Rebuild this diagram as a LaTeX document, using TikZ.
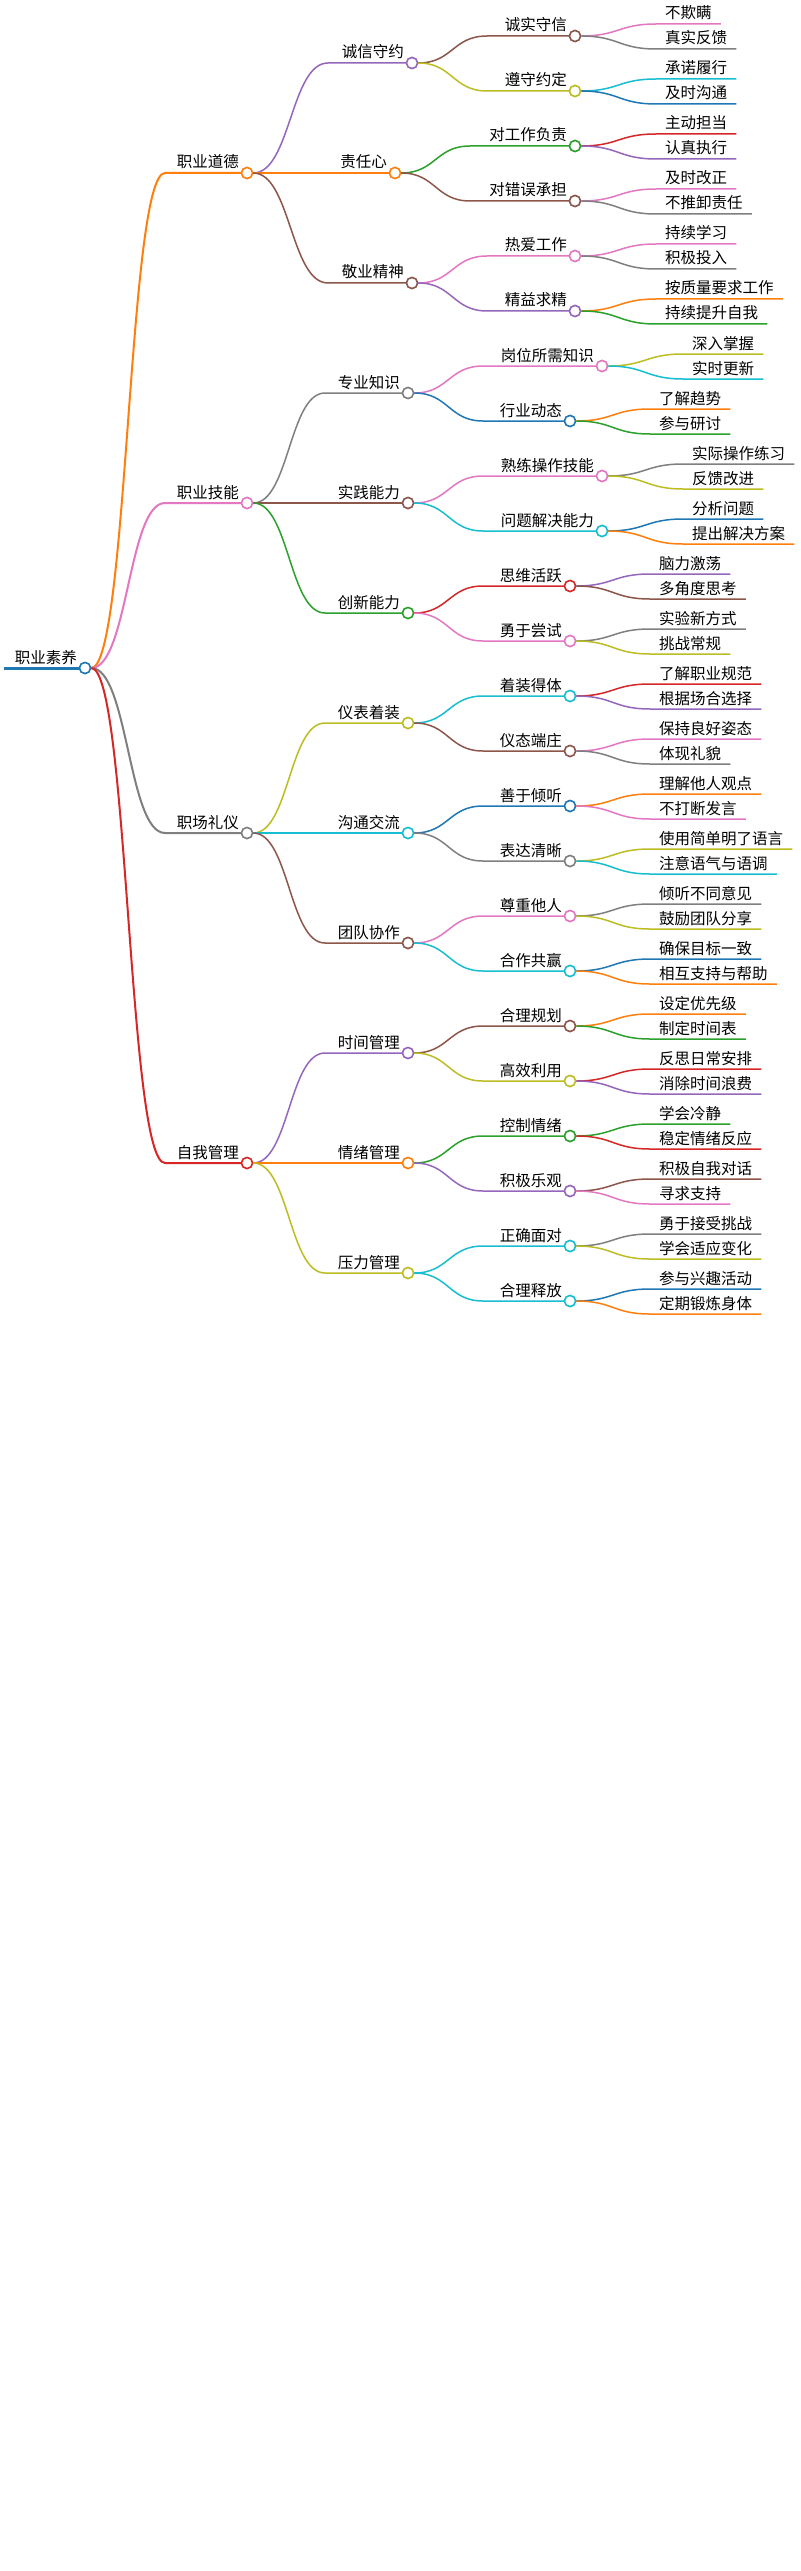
\documentclass[tikz,border=0pt]{standalone}
\usepackage{fontspec}
\setmainfont{Noto Sans CJK SC}
\usetikzlibrary{calc}
\definecolor{cblue}{HTML}{1F77B4}
\definecolor{corange}{HTML}{FF7F0E}
\definecolor{cgreen}{HTML}{2CA02C}
\definecolor{cred}{HTML}{D62728}
\definecolor{cpurple}{HTML}{9467BD}
\definecolor{cbrown}{HTML}{8C564B}
\definecolor{cpink}{HTML}{E377C2}
\definecolor{cgray}{HTML}{7F7F7F}
\definecolor{colive}{HTML}{BCBD22}
\definecolor{ccyan}{HTML}{17BECF}
\tikzset{
  dot/.style={circle,fill=white,line width=1.5pt,minimum size=11pt,inner sep=0pt},
  lbl/.style={inner sep=0pt,font=\fontsize{15.5}{18}\selectfont,text=black},
}
% parent, name, linestart x, y, circle x, color, text, width
\newcommand\branch[8]{%
  \coordinate (#2s) at (#3,#4);
  \coordinate (m) at ($(#1.east)!0.5!(#2s)$);
  \draw[#6,line width=#8] (#1.east) .. controls (m |- #1.east) and (m |- #2s) .. (#2s) -- (#2.west);
  \node[lbl,anchor=base east] (#2t) at (#5-8,#4-5) {#7};
}
\newcommand\bdot[4]{\node[dot,draw=#4] (#1) at (#2,#3) {};}
% parent, name, linestart x, y, color, text
\newcommand\leaf[6]{%
  \node[lbl,anchor=base west] (#2) at (#3+9,#4-5) {#6};
  \coordinate (#2s) at (#3,#4);
  \coordinate (m) at ($(#1.east)!0.5!(#2s)$);
  \draw[#5,line width=1.5pt] (#1.east) .. controls (m |- #1.east) and (m |- #2s) .. (#2s) -- (#2s -| #2.east) -- ++(9,0);
}
% L2 with dot
\newcommand\node@{}
\newcommand\Bn[8]{\bdot{#2}{#5}{#4}{#6}\branch{#1}{#2}{#3}{#4}{#5}{#6}{#7}{#8}\bdot{#2}{#5}{#4}{#6}}
\begin{document}
\begin{tikzpicture}[x=1pt,y=-1pt]
\useasboundingbox (0,0) rectangle (800,2571);
\fill[white] (0,0) rectangle (800,2571);
% root
\coordinate (r0) at (4,668);
\node[dot,draw=cblue] (root) at (85,668) {};
\draw[cblue,line width=3pt] (r0) -- (root.west);
\node[dot,draw=cblue] (root) at (85,668) {};
\node[lbl,anchor=base east] (roott) at (77,663) {职业素养};

% ===== Level 1
\Bn{root}{a}{165}{173}{247}{corange}{职业道德}{2pt}
\Bn{root}{b}{165}{503}{247}{cpink}{职业技能}{2pt}
\Bn{root}{c}{165}{833}{247}{cgray}{职场礼仪}{2pt}
\Bn{root}{d}{165}{1163}{247}{cred}{自我管理}{2pt}

% ===== 职业道德
\Bn{a}{a1}{328}{63}{412}{cpurple}{诚信守约}{1.5pt}
\Bn{a}{a2}{328}{173}{395}{corange}{责任心}{1.5pt}
\Bn{a}{a3}{328}{283}{412}{cbrown}{敬业精神}{1.5pt}
\Bn{a1}{a11}{487}{36}{575}{cbrown}{诚实守信}{1.5pt}
\Bn{a1}{a12}{487}{91}{575}{colive}{遵守约定}{1.5pt}
\Bn{a2}{a21}{470}{146}{575}{cgreen}{对工作负责}{1.5pt}
\Bn{a2}{a22}{470}{201}{575}{cbrown}{对错误承担}{1.5pt}
\Bn{a3}{a31}{487}{256}{575}{cpink}{热爱工作}{1.5pt}
\Bn{a3}{a32}{487}{311}{575}{cpurple}{精益求精}{1.5pt}
\leaf{a11}{a111}{656}{24}{cpink}{不欺瞒}
\leaf{a11}{a112}{656}{49}{cgray}{真实反馈}
\leaf{a12}{a121}{656}{79}{ccyan}{承诺履行}
\leaf{a12}{a122}{656}{104}{cblue}{及时沟通}
\leaf{a21}{a211}{656}{134}{cred}{主动担当}
\leaf{a21}{a212}{656}{159}{cpurple}{认真执行}
\leaf{a22}{a221}{656}{189}{cpink}{及时改正}
\leaf{a22}{a222}{656}{214}{cgray}{不推卸责任}
\leaf{a31}{a311}{656}{244}{cpink}{持续学习}
\leaf{a31}{a312}{656}{269}{cgray}{积极投入}
\leaf{a32}{a321}{656}{299}{corange}{按质量要求工作}
\leaf{a32}{a322}{656}{324}{cgreen}{持续提升自我}

% ===== 职业技能
\Bn{b}{b1}{325}{393}{408}{cgray}{专业知识}{1.5pt}
\Bn{b}{b2}{325}{503}{408}{cbrown}{实践能力}{1.5pt}
\Bn{b}{b3}{325}{613}{408}{cgreen}{创新能力}{1.5pt}
\Bn{b1}{b11}{483}{366}{602}{cpink}{岗位所需知识}{1.5pt}
\Bn{b1}{b12}{483}{421}{570}{cblue}{行业动态}{1.5pt}
\Bn{b2}{b21}{483}{476}{602}{cpink}{熟练操作技能}{1.5pt}
\Bn{b2}{b22}{483}{531}{602}{ccyan}{问题解决能力}{1.5pt}
\Bn{b3}{b31}{483}{586}{570}{cred}{思维活跃}{1.5pt}
\Bn{b3}{b32}{483}{641}{570}{cpink}{勇于尝试}{1.5pt}
\leaf{b11}{b111}{683}{354}{colive}{深入掌握}
\leaf{b11}{b112}{683}{379}{ccyan}{实时更新}
\leaf{b12}{b121}{650}{409}{corange}{了解趋势}
\leaf{b12}{b122}{650}{434}{cgreen}{参与研讨}
\leaf{b21}{b211}{683}{464}{cgray}{实际操作练习}
\leaf{b21}{b212}{683}{489}{colive}{反馈改进}
\leaf{b22}{b221}{683}{519}{cblue}{分析问题}
\leaf{b22}{b222}{683}{544}{corange}{提出解决方案}
\leaf{b31}{b311}{650}{574}{cpurple}{脑力激荡}
\leaf{b31}{b312}{650}{599}{cbrown}{多角度思考}
\leaf{b32}{b321}{650}{629}{cgray}{实验新方式}
\leaf{b32}{b322}{650}{654}{colive}{挑战常规}

% ===== 职场礼仪
\Bn{c}{c1}{325}{723}{408}{colive}{仪表着装}{1.5pt}
\Bn{c}{c2}{325}{833}{408}{ccyan}{沟通交流}{1.5pt}
\Bn{c}{c3}{325}{943}{408}{cbrown}{团队协作}{1.5pt}
\Bn{c1}{c11}{483}{696}{570}{ccyan}{着装得体}{1.5pt}
\Bn{c1}{c12}{483}{751}{570}{cbrown}{仪态端庄}{1.5pt}
\Bn{c2}{c21}{483}{806}{570}{cblue}{善于倾听}{1.5pt}
\Bn{c2}{c22}{483}{861}{570}{cgray}{表达清晰}{1.5pt}
\Bn{c3}{c31}{483}{916}{570}{cpink}{尊重他人}{1.5pt}
\Bn{c3}{c32}{483}{971}{570}{ccyan}{合作共赢}{1.5pt}
\leaf{c11}{c111}{650}{684}{cred}{了解职业规范}
\leaf{c11}{c112}{650}{709}{cpurple}{根据场合选择}
\leaf{c12}{c121}{650}{739}{cpink}{保持良好姿态}
\leaf{c12}{c122}{650}{764}{cgray}{体现礼貌}
\leaf{c21}{c211}{650}{794}{corange}{理解他人观点}
\leaf{c21}{c212}{650}{819}{cpink}{不打断发言}
\leaf{c22}{c221}{650}{849}{colive}{使用简单明了语言}
\leaf{c22}{c222}{650}{874}{ccyan}{注意语气与语调}
\leaf{c31}{c311}{650}{904}{cgray}{倾听不同意见}
\leaf{c31}{c312}{650}{929}{colive}{鼓励团队分享}
\leaf{c32}{c321}{650}{959}{cblue}{确保目标一致}
\leaf{c32}{c322}{650}{984}{corange}{相互支持与帮助}

% ===== 自我管理
\Bn{d}{d1}{325}{1053}{408}{cpurple}{时间管理}{1.5pt}
\Bn{d}{d2}{325}{1163}{408}{corange}{情绪管理}{1.5pt}
\Bn{d}{d3}{325}{1273}{408}{colive}{压力管理}{1.5pt}
\Bn{d1}{d11}{483}{1026}{570}{cbrown}{合理规划}{1.5pt}
\Bn{d1}{d12}{483}{1081}{570}{colive}{高效利用}{1.5pt}
\Bn{d2}{d21}{483}{1136}{570}{cgreen}{控制情绪}{1.5pt}
\Bn{d2}{d22}{483}{1191}{570}{cpurple}{积极乐观}{1.5pt}
\Bn{d3}{d31}{483}{1246}{570}{ccyan}{正确面对}{1.5pt}
\Bn{d3}{d32}{483}{1301}{570}{ccyan}{合理释放}{1.5pt}
\leaf{d11}{d111}{650}{1014}{corange}{设定优先级}
\leaf{d11}{d112}{650}{1039}{cgreen}{制定时间表}
\leaf{d12}{d121}{650}{1069}{cred}{反思日常安排}
\leaf{d12}{d122}{650}{1094}{cpurple}{消除时间浪费}
\leaf{d21}{d211}{650}{1124}{cgreen}{学会冷静}
\leaf{d21}{d212}{650}{1149}{cred}{稳定情绪反应}
\leaf{d22}{d221}{650}{1179}{cbrown}{积极自我对话}
\leaf{d22}{d222}{650}{1204}{cpink}{寻求支持}
\leaf{d31}{d311}{650}{1234}{cgray}{勇于接受挑战}
\leaf{d31}{d312}{650}{1259}{colive}{学会适应变化}
\leaf{d32}{d321}{650}{1289}{cblue}{参与兴趣活动}
\leaf{d32}{d322}{650}{1314}{corange}{定期锻炼身体}
\end{tikzpicture}
\end{document}
